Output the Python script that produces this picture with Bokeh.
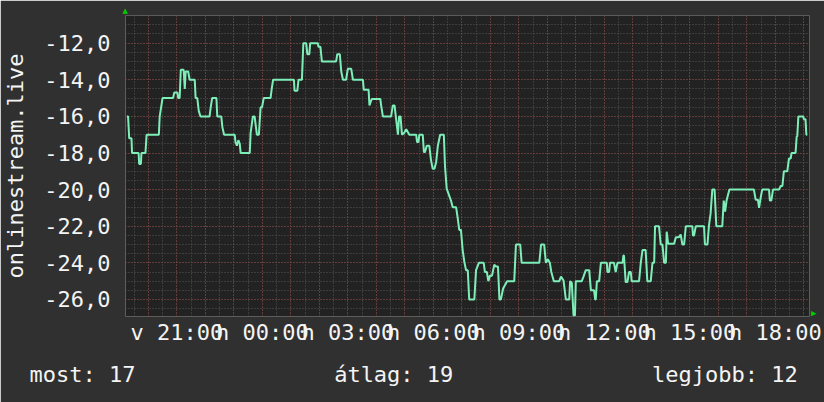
import numpy as np
from bokeh.plotting import figure
from bokeh.models import Range1d, FixedTicker, Title
from bokeh.embed import file_html
from bokeh.resources import INLINE

# time in hours (Sunday 21:00 = 21, Monday 00:00 = 24, Monday 18:00 = 42)
hours = [
    19.25, 19.29, 19.33, 19.41, 19.43, 19.66, 19.68, 19.74, 19.76, 19.90,
    19.94, 20.37, 20.40, 20.50, 20.87, 20.91, 21.02, 21.05, 21.10, 21.14,
    21.24, 21.28, 21.31, 21.40, 21.45, 21.63, 21.66, 21.72, 21.77, 21.83,
    22.15, 22.19, 22.24, 22.39, 22.42, 22.56, 22.60, 22.66, 23.03, 23.06,
    23.11, 23.16, 23.21, 23.24, 23.56, 23.59, 23.67, 23.73, 23.81, 23.88,
    23.94, 23.99, 24.05, 24.29, 24.33, 24.38, 25.11, 25.13, 25.23, 25.27,
    25.39, 25.44, 25.54, 25.58, 25.65, 25.68, 25.95, 25.97, 26.04, 26.09,
    26.59, 26.63, 26.72, 26.77, 26.83, 26.94, 27.00, 27.12, 27.18, 27.53,
    27.56, 27.73, 27.76, 27.84, 28.14, 28.17, 28.23, 28.52, 28.58, 28.64,
    28.70, 28.76, 28.80, 28.85, 28.90, 28.98, 29.05, 29.16, 29.40, 29.43,
    29.48, 29.51, 29.63, 29.67, 29.71, 29.77, 29.86, 29.92, 29.98, 30.04,
    30.10, 30.16, 30.24, 30.37, 30.41, 30.47, 30.62, 30.68, 30.80, 30.86,
    30.91, 30.97, 31.03, 31.09, 31.15, 31.21, 31.26, 31.44, 31.50, 31.60,
    31.77, 31.81, 31.88, 31.93, 31.99, 32.06, 32.14, 32.20, 32.27, 32.32,
    32.37, 32.45, 32.59, 32.84, 32.90, 33.05, 33.10, 33.72, 33.78, 33.89,
    33.95, 34.02, 34.09, 34.14, 34.23, 34.42, 34.48, 34.57, 34.65, 34.77,
    34.80, 34.86, 34.92, 34.97, 35.00, 35.21, 35.27, 35.35, 35.47, 35.53,
    35.64, 35.68, 35.70, 35.74, 35.82, 35.88, 36.09, 36.11, 36.17, 36.20,
    36.34, 36.40, 36.46, 36.64, 36.67, 36.69, 36.75, 36.81, 36.87, 36.93,
    36.96, 37.22, 37.28, 37.34, 37.45, 37.51, 37.63, 37.69, 37.75, 37.78,
    37.92, 37.98, 38.04, 38.10, 38.16, 38.19, 38.24, 38.45, 38.51, 38.62,
    38.68, 38.74, 38.80, 38.86, 39.09, 39.11, 39.15, 39.21, 39.50, 39.53,
    39.62, 39.67, 39.73, 39.79, 39.87, 39.93, 40.14, 40.19, 40.24, 40.29,
    40.39, 41.25, 41.31, 41.39, 41.43, 41.48, 41.54, 41.78, 41.81, 41.86,
    41.92, 42.13, 42.19, 42.25, 42.30, 42.42, 42.48, 42.54, 42.57, 42.71,
    42.75, 42.77, 42.81, 42.98, 43.00, 43.06, 43.09, 43.12,
]
values = [
    -16.0, -16.0, -17.2, -17.2, -18.0, -18.0, -18.6, -18.6, -18.0, -18.0,
    -17.0, -17.0, -16.0, -15.0, -15.0, -14.7, -14.7, -15.0, -15.0, -13.45,
    -13.45, -14.5, -13.55, -13.55, -14.0, -14.0, -15.0, -15.0, -15.7, -16.0,
    -16.0, -15.5, -15.0, -15.0, -16.0, -16.0, -16.6, -17.0, -17.0, -17.4,
    -17.6, -17.3, -17.5, -18.0, -18.0, -16.9, -16.0, -16.0, -17.0, -17.0,
    -15.5, -15.5, -15.0, -15.0, -14.5, -14.0, -14.0, -14.6, -14.6, -14.0,
    -14.0, -12.0, -12.0, -12.6, -12.6, -12.0, -12.0, -12.2, -12.2, -13.0,
    -13.0, -12.6, -12.6, -13.55, -14.0, -14.0, -13.4, -13.4, -14.0, -14.0,
    -14.55, -14.55, -15.4, -15.05, -15.05, -15.4, -16.0, -16.0, -15.4, -15.4,
    -16.2, -17.0, -16.0, -16.0, -17.0, -16.9, -16.7, -17.0, -17.0, -17.4,
    -17.4, -17.0, -17.0, -17.95, -17.95, -17.6, -17.6, -18.4, -18.86, -18.86,
    -18.5, -17.6, -17.0, -17.0, -18.7, -19.95, -20.6, -20.96, -20.96, -21.6,
    -22.2, -22.2, -23.3, -23.96, -24.4, -24.4, -26.0, -26.0, -24.4, -24.0,
    -24.0, -24.5, -24.5, -25.0, -24.7, -24.7, -24.1, -24.2, -24.2, -26.0,
    -26.0, -25.4, -25.0, -25.0, -23.0, -23.0, -24.0, -24.0, -23.0, -23.0,
    -24.0, -23.8, -24.0, -24.5, -25.0, -25.0, -24.75, -24.96, -26.0, -26.0,
    -25.0, -25.1, -26.87, -26.87, -25.0, -25.0, -24.75, -24.4, -24.4, -25.5,
    -25.5, -26.0, -26.0, -25.0, -25.0, -24.0, -24.0, -24.5, -24.5, -24.0,
    -24.0, -24.5, -24.0, -24.0, -23.6, -23.6, -25.05, -25.05, -24.5, -24.5,
    -25.0, -25.0, -24.0, -23.3, -23.3, -25.0, -25.0, -24.0, -24.0, -22.0,
    -22.0, -23.0, -23.0, -24.0, -24.0, -22.3, -22.96, -22.96, -22.6, -22.6,
    -22.45, -23.0, -23.0, -22.0, -22.0, -22.5, -22.5, -22.0, -22.0, -23.0,
    -23.0, -22.0, -21.3, -20.0, -20.0, -22.0, -22.0, -20.6, -21.2, -20.6,
    -20.0, -20.0, -20.55, -20.55, -21.0, -20.5, -20.0, -20.0, -20.6, -20.6,
    -20.0, -20.0, -19.8, -19.8, -19.0, -19.0, -18.3, -18.3, -18.0, -18.0,
    -17.1, -17.1, -16.0, -16.0, -16.15, -16.15, -17.0, -17.0,
]

x_ticks = [21, 24, 27, 30, 33, 36, 39, 42]
x_tick_labels = ["v 21:00", "h 00:00", "h 03:00", "h 06:00",
                 "h 09:00", "h 12:00", "h 15:00", "h 18:00"]
y_ticks = [-26, -24, -22, -20, -18, -16, -14, -12]
y_tick_labels = ["-26,0", "-24,0", "-22,0", "-20,0", "-18,0", "-16,0", "-14,0", "-12,0"]
y_title = "onlinestream.live"
stat_names = ["most", "átlag", "legjobb"]
stat_values = [17, 19, 12]

X_START, X_END = 19.2, 43.2
Y_START, Y_END = -26.93, -10.49

FONT = "DejaVu Sans Mono"
TXT = "#f4f4f4"
BG = "#303030"
NBSP = "\u00a0"

p = figure(width=824, height=402, output_backend="svg", toolbar_location=None,
           x_range=Range1d(X_START, X_END), y_range=Range1d(Y_START, Y_END),
           min_border_left=124, min_border_right=15, min_border_top=15,
           min_border_bottom=86,
           background_fill_color="#222222", border_fill_color=BG,
           outline_line_color=None)

# axes
p.xaxis.ticker = FixedTicker(ticks=x_ticks)
p.xaxis.major_label_overrides = dict(zip(x_ticks, x_tick_labels))
p.yaxis.ticker = FixedTicker(ticks=y_ticks)
p.yaxis.major_label_overrides = dict(zip(y_ticks, y_tick_labels))
for ax in (p.xaxis, p.yaxis):
    ax.axis_line_color = None
    ax.major_tick_line_color = None
    ax.minor_tick_line_color = None
    ax.major_tick_out = 0
    ax.major_tick_in = 0
    ax.minor_tick_out = 0
    ax.major_label_text_font = FONT
    ax.major_label_text_font_size = "22px"
    ax.major_label_text_color = TXT
    ax.axis_label_text_font = FONT
    ax.axis_label_text_font_size = "22px"
    ax.axis_label_text_font_style = "normal"
    ax.axis_label_text_color = TXT
p.xaxis.major_label_standoff = 3
p.yaxis.major_label_standoff = 15

# y title
p.yaxis.axis_label = y_title
p.yaxis.axis_label_standoff = 13

# statistics line (rrdtool-style justified legend) under the chart
stats = [f"{n}: {v}" for n, v in zip(stat_names, stat_values)]
p.add_layout(Title(text=(NBSP * 15).join(stats), align="left", offset=-96,
                   vertical_align="bottom", standoff=25,
                   text_font=FONT, text_font_size="22px",
                   text_font_style="normal", text_color=TXT), "below")

# grids
p.xgrid.ticker = FixedTicker(ticks=list(np.arange(20, 44, 1.0)),
                             minor_ticks=list(np.arange(19.5, 43.5, 0.5)))
p.ygrid.ticker = FixedTicker(ticks=y_ticks,
                             minor_ticks=list(np.arange(-27.0, -10.0, 0.5)))
for g in (p.xgrid, p.ygrid):
    g.grid_line_color = "#8a3c3c"
    g.grid_line_dash = "1 2"
    g.grid_line_width = 1
    g.minor_grid_line_color = "#565656"
    g.minor_grid_line_dash = "1 2"
    g.minor_grid_line_width = 1

p.line(hours, values, line_color="#7eeeb9", line_width=2)

# axis arrows (rrdtool style)
p.add_layout(Title(text="▲", align="left", offset=-3, standoff=1,
                   text_font="DejaVu Sans", text_font_size="7px",
                   text_font_style="normal", text_color="#00cc00"), "above")
p.add_layout(Title(text="▲", align="right", offset=0, standoff=1,
                   text_font="DejaVu Sans", text_font_size="7px",
                   text_font_style="normal", text_color="#00cc00"), "right")

open("out.html", "w").write(file_html(p, INLINE))
